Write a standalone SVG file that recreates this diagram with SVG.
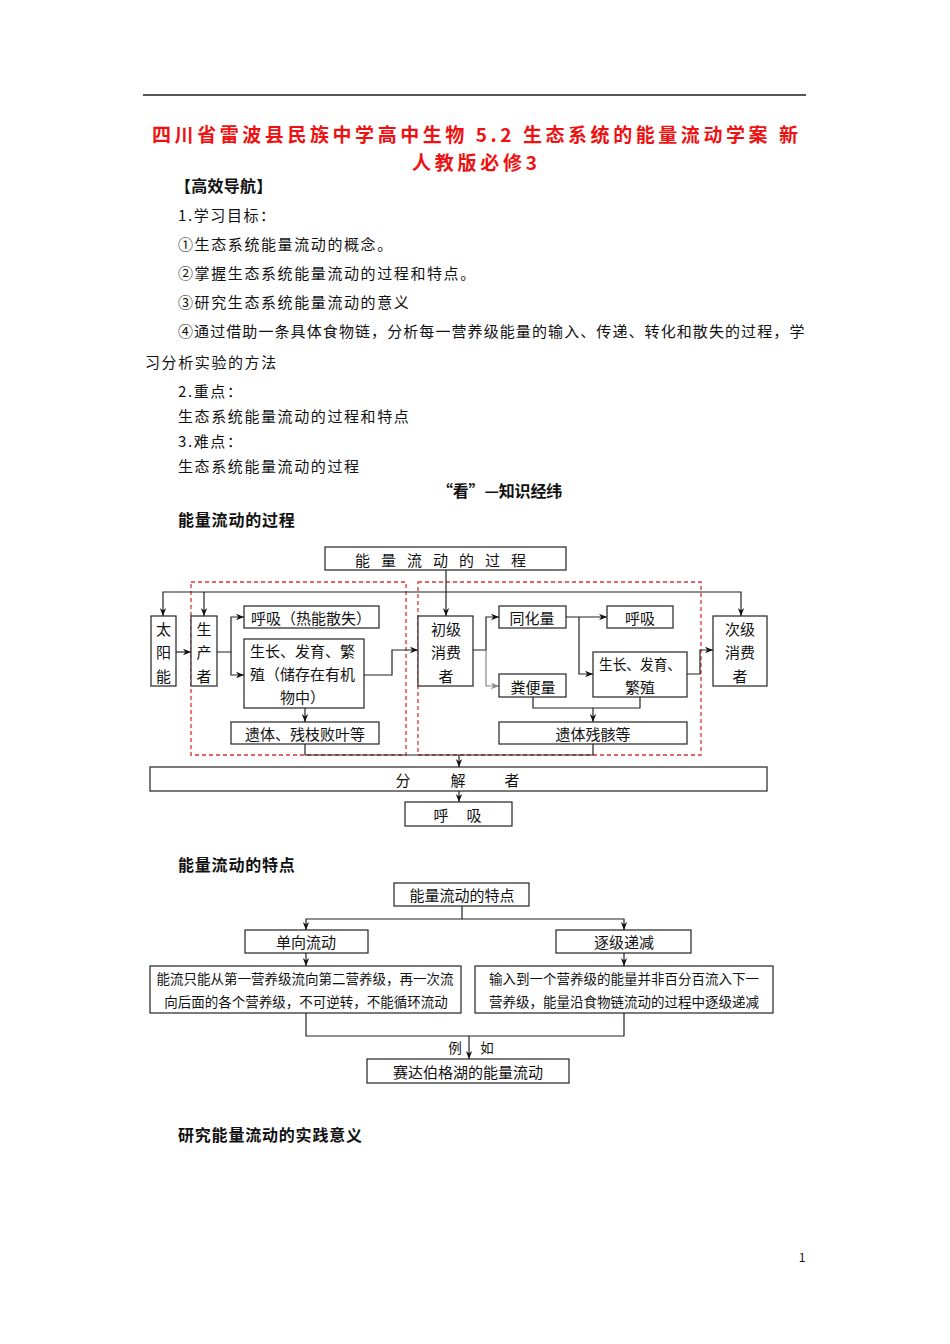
<svg xmlns="http://www.w3.org/2000/svg" width="950" height="1344" viewBox="0 0 950 1344">
<style>
text{font-family:"Noto Sans CJK SC","Liberation Sans",sans-serif;fill:#111}
.title{font-size:19px;font-weight:bold;fill:#ee1111}
.body{font-size:15px;letter-spacing:1.6px}
.head{font-size:16px;font-weight:bold;letter-spacing:0.8px}
.bx{fill:#fff;stroke:#222;stroke-width:1.2}
.t15{font-size:15px}
.t13{font-size:13.5px}
.c{text-anchor:middle;dominant-baseline:central}
.red{fill:none;stroke:#dd3333;stroke-width:1.3;stroke-dasharray:4 3}
.ln{fill:none;stroke:#222;stroke-width:1.2}
.arr{marker-end:url(#ah)}
</style>
<defs>
<marker id="ah" viewBox="0 0 10 10" refX="10" refY="5" markerWidth="8" markerHeight="8" orient="auto" markerUnits="userSpaceOnUse"><path d="M0,1 L10,5 L0,9 L3,5 z" fill="#111"/></marker>
<marker id="ahg" viewBox="0 0 10 10" refX="10" refY="5" markerWidth="8" markerHeight="8" orient="auto" markerUnits="userSpaceOnUse"><path d="M0,1 L10,5 L0,9 L3,5 z" fill="#888"/></marker>
</defs>
<rect width="950" height="1344" fill="#fff"/>
<line x1="143" y1="95" x2="806" y2="95" stroke="#555" stroke-width="2"/>
<g id="page-text">
<text class="title" x="152" y="142" textLength="646" lengthAdjust="spacing">四川省雷波县民族中学高中生物 5.2 生态系统的能量流动学案 新</text>
<text class="title" x="412" y="170" textLength="125" lengthAdjust="spacing">人教版必修3</text>
<text class="head" x="175" y="192" textLength="98" lengthAdjust="spacing">【高效导航】</text>
<text class="body" x="178" y="221">1.学习目标：</text>
<text class="body" x="178" y="250">①生态系统能量流动的概念。</text>
<text class="body" x="178" y="279">②掌握生态系统能量流动的过程和特点。</text>
<text class="body" x="178" y="308">③研究生态系统能量流动的意义</text>
<text class="body" x="178" y="337" textLength="628" lengthAdjust="spacing">④通过借助一条具体食物链，分析每一营养级能量的输入、传递、转化和散失的过程，学</text>
<text class="body" x="145" y="368">习分析实验的方法</text>
<text class="body" x="178" y="397">2.重点：</text>
<text class="body" x="178" y="422">生态系统能量流动的过程和特点</text>
<text class="body" x="178" y="447">3.难点：</text>
<text class="body" x="178" y="472">生态系统能量流动的过程</text>
<text class="head" x="437" y="497" textLength="126" lengthAdjust="spacing">“看”—知识经纬</text>
<text class="head" x="178" y="526">能量流动的过程</text>
<text class="head" x="178" y="871">能量流动的特点</text>
<text class="head" x="178" y="1141">研究能量流动的实践意义</text>
<text x="802" y="1262" font-size="12" text-anchor="middle">1</text>
</g>
<g id="regions">
<rect class="red" x="191" y="582" width="215" height="173"/>
<rect class="red" x="418" y="582" width="283" height="173"/>
</g>
<g id="connectors">
<path class="ln arr" d="M446,570 V616" stroke-width="2"/>
<path class="ln arr" d="M446,592 H163 V616"/>
<path class="ln arr" d="M204,592 V616"/>
<path class="ln arr" d="M446,592 H741 V616"/>
<path class="ln arr" d="M176,652 H191"/>
<path class="ln arr" d="M217,652 H231 V617 H244"/>
<path class="ln arr" d="M231,652 V675 H244"/>
<path class="ln arr" d="M305,708 V722"/>
<path class="ln" d="M305,744 V755 H593 V744"/>
<path class="ln arr" d="M459,755 V767"/>
<path class="ln arr" d="M364,675 H392 V650 H418"/>
<path class="ln arr" d="M473,650 H486 V617 H499"/>
<path d="M486,650 V686 H499" fill="none" stroke="#888" stroke-width="1.2" marker-end="url(#ahg)"/>
<path class="ln arr" d="M566,617 H607"/>
<path class="ln arr" d="M579,617 V674 H593"/>
<path class="ln arr" d="M687,674 H700 V650 H713"/>
<path class="ln" d="M533,697 V708 H640 V697"/>
<path class="ln arr" d="M593,708 V722"/>
<path class="ln arr" d="M459,791 V802"/>
<path class="ln arr" d="M462,906 V919 H306 V930"/>
<path class="ln arr" d="M462,919 H624 V930"/>
<path class="ln arr" d="M306,953 V966"/>
<path class="ln arr" d="M624,953 V966"/>
<path class="ln" d="M306,1013 V1036 H624 V1013"/>
<path class="ln arr" d="M469,1036 V1059"/>
<text class="t13 c" x="455" y="1047">例</text>
<text class="t13 c" x="487" y="1047">如</text>
</g>
<g id="n-title">
<rect class="bx" x="325" y="547" width="241" height="23"/>
<text class="t15 c" x="446" y="559" letter-spacing="11">能量流动的过程</text>
</g>
<g id="n-sun">
<rect class="bx" x="151" y="616" width="25" height="70"/>
<text class="t15 c" x="163.5" y="628">太</text><text class="t15 c" x="163.5" y="651">阳</text><text class="t15 c" x="163.5" y="675">能</text>
</g>
<g id="n-producer">
<rect class="bx" x="191" y="616" width="26" height="70"/>
<text class="t15 c" x="204" y="628">生</text><text class="t15 c" x="204" y="651">产</text><text class="t15 c" x="204" y="675">者</text>
</g>
<g id="n-resp1">
<rect class="bx" x="244" y="606" width="135" height="22"/>
<text class="t15 c" x="311" y="617">呼吸（热能散失）</text>
</g>
<g id="n-grow1">
<rect class="bx" x="244" y="639" width="120" height="69"/>
<text class="t15" x="250" y="657">生长、发育、繁</text>
<text class="t15" x="250" y="680">殖（储存在有机</text>
<text class="t15" x="280" y="703">物中）</text>
</g>
<g id="n-remains1">
<rect class="bx" x="231" y="722" width="148" height="22"/>
<text class="t15 c" x="305" y="733">遗体、残枝败叶等</text>
</g>
<g id="n-primary">
<rect class="bx" x="418" y="616" width="55" height="70"/>
<text class="t15 c" x="446" y="628">初级</text><text class="t15 c" x="446" y="651">消费</text><text class="t15 c" x="446" y="675">者</text>
</g>
<g id="n-assim">
<rect class="bx" x="499" y="606" width="67" height="22"/>
<text class="t15 c" x="532" y="617">同化量</text>
</g>
<g id="n-resp2">
<rect class="bx" x="607" y="606" width="66" height="22"/>
<text class="t15 c" x="640" y="617">呼吸</text>
</g>
<g id="n-grow2">
<rect class="bx" x="593" y="652" width="94" height="45"/>
<text class="t15 c" x="640" y="663" textLength="82" lengthAdjust="spacingAndGlyphs">生长、发育、</text>
<text class="t15 c" x="640" y="686">繁殖</text>
</g>
<g id="n-feces">
<rect class="bx" x="499" y="674" width="67" height="23"/>
<text class="t15 c" x="533" y="686">粪便量</text>
</g>
<g id="n-secondary">
<rect class="bx" x="713" y="616" width="54" height="70"/>
<text class="t15 c" x="740" y="628">次级</text><text class="t15 c" x="740" y="651">消费</text><text class="t15 c" x="740" y="675">者</text>
</g>
<g id="n-remains2">
<rect class="bx" x="499" y="722" width="188" height="22"/>
<text class="t15 c" x="593" y="733">遗体残骸等</text>
</g>
<g id="n-decomposer">
<rect class="bx" x="150" y="767" width="617" height="24"/>
<text class="t15 c" x="403" y="779">分</text><text class="t15 c" x="458" y="779">解</text><text class="t15 c" x="512" y="779">者</text>
</g>
<g id="n-resp3">
<rect class="bx" x="405" y="802" width="107" height="24"/>
<text class="t15 c" x="441" y="814">呼</text><text class="t15 c" x="474" y="814">吸</text>
</g>
<g id="n-feat">
<rect class="bx" x="394" y="883" width="135" height="23"/>
<text class="t15 c" x="462" y="894">能量流动的特点</text>
</g>
<g id="n-oneway">
<rect class="bx" x="245" y="930" width="123" height="23"/>
<text class="t15 c" x="306" y="941">单向流动</text>
</g>
<g id="n-decrease">
<rect class="bx" x="556" y="930" width="135" height="23"/>
<text class="t15 c" x="624" y="941">逐级递减</text>
</g>
<g id="n-oneway-desc">
<rect class="bx" x="150" y="966" width="311" height="47"/>
<text class="t13 c" x="305" y="978">能流只能从第一营养级流向第二营养级，再一次流</text>
<text class="t13 c" x="306" y="1001">向后面的各个营养级，不可逆转，不能循环流动</text>
</g>
<g id="n-decrease-desc">
<rect class="bx" x="475" y="966" width="298" height="47"/>
<text class="t13 c" x="624" y="978">输入到一个营养级的能量并非百分百流入下一</text>
<text class="t13 c" x="624" y="1001">营养级，能量沿食物链流动的过程中逐级递减</text>
</g>
<g id="n-example">
<rect class="bx" x="367" y="1059" width="202" height="24"/>
<text class="t15 c" x="468" y="1071">赛达伯格湖的能量流动</text>
</g>
</svg>
